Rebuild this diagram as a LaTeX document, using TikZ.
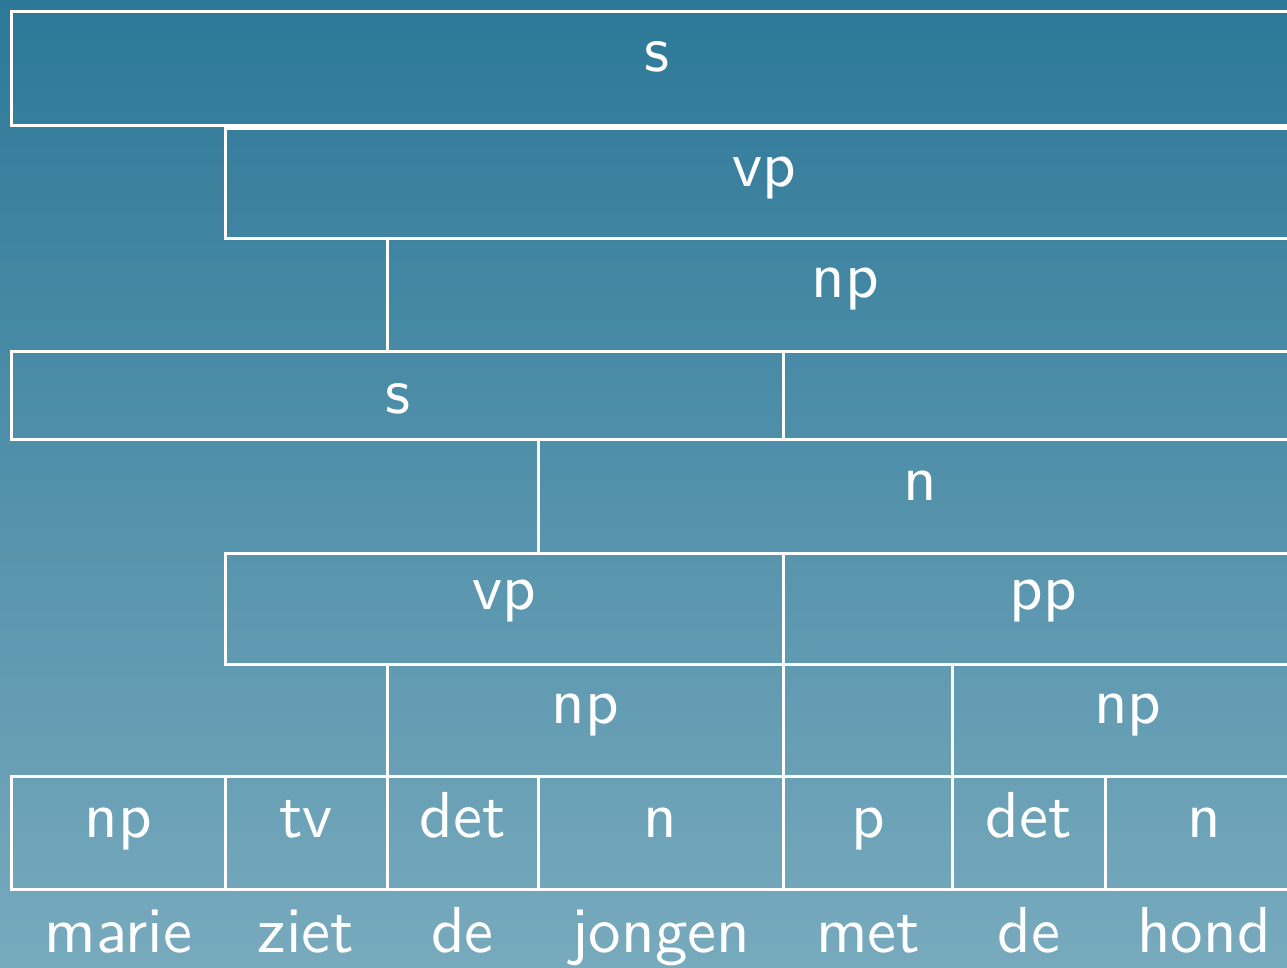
\documentclass[tikz,border=0pt]{standalone}
\definecolor{bgtop}{RGB}{45,120,152}
\definecolor{bgbot}{RGB}{120,170,189}
\font\chartfont="[lmsans10-regular]:mapping=tex-text" at 65pt
\newcommand\chartcell[7]{% name, x1, y1, x2, y2, baseline, label
  \node[cell, minimum width={#4-#2}, minimum height={#5-#3}] (#1) at (#2,#3) {};
  \node[lab] (#1-t) at ({(#2+#4)/2},#6) {#7};}
\begin{document}
\begin{tikzpicture}[x=1pt,y=-1pt,
  cell/.style={draw=white, line width=3pt, rectangle, inner sep=0pt, outer sep=0pt, anchor=north west},
  lab/.style={text=white, anchor=base, inner sep=0pt, font=\chartfont}]
\useasboundingbox (0,0) rectangle (1287,968);
\clip (0,0) rectangle (1287,968);
\shade[top color=bgtop, bottom color=bgbot] (0,0) rectangle (1287,968);
% row 1
\chartcell{r1s}{11.5}{11.5}{1303}{125.3}{71.7}{s}
% row 2
\chartcell{r2vp}{225}{128.5}{1303}{239}{186.7}{vp}
% row 3
\chartcell{r3np}{387}{239}{1303}{351}{298}{np}
% row 4
\chartcell{r4s}{11.5}{351}{783.5}{439}{413}{s}
\chartcell{r4e}{783.5}{351}{1303}{439}{413}{}
% row 5
\chartcell{r5n}{538}{439}{1303}{553}{500}{n}
% row 6
\chartcell{r6vp}{225}{553}{783.5}{664}{609}{vp}
\chartcell{r6pp}{783.5}{553}{1303}{664}{609}{pp}
% row 7
\chartcell{r7np}{387}{664}{783.5}{776}{723}{np}
\chartcell{r7e}{783.5}{664}{952.5}{776}{723}{}
\chartcell{r7npb}{952.5}{664}{1303}{776}{723}{np}
% row 8
\chartcell{c1}{11.5}{776}{225}{889}{837}{np}
\chartcell{c2}{225}{776}{387}{889}{837}{tv}
\chartcell{c3}{387}{776}{538}{889}{837}{det}
\chartcell{c4}{538}{776}{783.5}{889}{837}{n}
\chartcell{c5}{783.5}{776}{952.5}{889}{837}{p}
\chartcell{c6}{952.5}{776}{1105}{889}{837}{det}
\chartcell{c7}{1105}{776}{1303}{889}{837}{n}
% words
\node[lab] (w1) at (c1.south |- 0,952) {marie};
\node[lab] (w2) at (c2.south |- 0,952) {ziet};
\node[lab] (w3) at (c3.south |- 0,952) {de};
\node[lab] (w4) at (c4.south |- 0,952) {jongen};
\node[lab] (w5) at (c5.south |- 0,952) {met};
\node[lab] (w6) at (c6.south |- 0,952) {de};
\node[lab] (w7) at (c7.south |- 0,952) {hond};
\end{tikzpicture}
\end{document}
